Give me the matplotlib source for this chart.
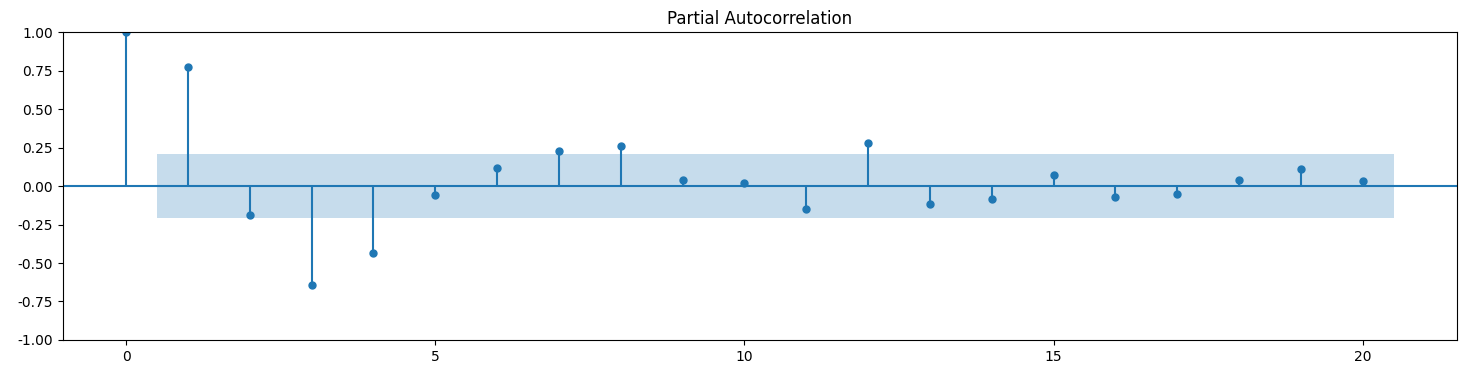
import numpy as np
import matplotlib
matplotlib.use("Agg")
import matplotlib.pyplot as plt

# --- data ---
lags = np.arange(21)
pacf_vals = [1.0, 0.773, -0.188, -0.643, -0.435, -0.058, 0.117, 0.227, 0.260, 0.039,
             0.020, -0.149, 0.279, -0.117, -0.084, 0.071, -0.071, -0.052, 0.039, 0.110,
             0.032]
conf_band = 0.21  # half width of the confidence band
title = "Partial Autocorrelation"

fig, ax = plt.subplots(figsize=(14.67, 3.74), dpi=100)
fig.subplots_adjust(left=0.0427, right=0.9932, top=0.914, bottom=0.091)

ax.vlines(lags, [0], pacf_vals, color="C0")
ax.plot(lags, pacf_vals, marker="o", markersize=5, linestyle="None", color="C0")
ax.axhline(0, color="C0")

# band is drawn from 0.5 past lag 0 to 0.5 past the last lag
band_x = lags[1:].astype(float)
band_x[0] -= 0.5
band_x[-1] += 0.5
ax.fill_between(band_x, -conf_band, conf_band, alpha=0.25, linewidth=0)

ax.margins(0.05)
ax.set_ylim(-1, 1)
ax.set_yticks(np.arange(-1, 1.01, 0.25))
ax.yaxis.set_major_formatter(matplotlib.ticker.FormatStrFormatter("%.2f"))
ax.set_title(title)

fig.savefig("out.png", dpi=100)
